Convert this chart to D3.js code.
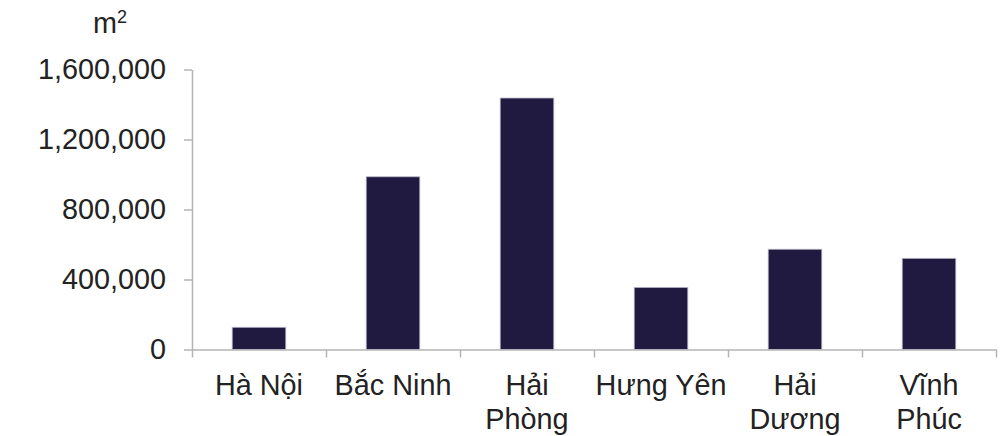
<!DOCTYPE html>
<html>
<head>
<meta charset="utf-8">
<script src="https://cdn.jsdelivr.net/npm/d3@7"></script>
<style>
  html, body { margin: 0; padding: 0; background: #fff; }
  svg { display: block; font-family: "Liberation Sans", Arial, sans-serif; }
</style>
</head>
<body>
<svg id="chart" width="1003" height="436"></svg>
<script>
// Industrial land area by province (m²)
const categories = ["Hà Nội", "Bắc Ninh", "Hải Phòng", "Hưng Yên", "Hải Dương", "Vĩnh Phúc"];
const categoryLines = [["Hà Nội"], ["Bắc Ninh"], ["Hải", "Phòng"], ["Hưng Yên"], ["Hải", "Dương"], ["Vĩnh", "Phúc"]];
const areaValues = [127000, 987000, 1437000, 355000, 573000, 521000];
const yTicks = [0, 400000, 800000, 1200000, 1600000];
const unitLabel = "m";
const unitSup = "2";

const svg = d3.select("#chart");
const margin = { left: 192, right: 7, top: 69.5, bottom: 86.5 };
const W = 1003, H = 436;
const textColor = "#222222";
const axisColor = "#b4b4b4";
const fontSize = 28.8;

const x = d3.scaleBand()
  .domain(categories)
  .range([margin.left, W - margin.right])
  .paddingInner(0.6)
  .paddingOuter(0.3);

const y = d3.scaleLinear()
  .domain([0, 1600000])
  .range([H - margin.bottom, margin.top]);

// Bars
svg.append("g")
  .selectAll("rect")
  .data(categories)
  .join("rect")
  .attr("x", (d) => x(d))
  .attr("width", x.bandwidth())
  .attr("y", (d, i) => y(areaValues[i]))
  .attr("height", (d, i) => y(0) - y(areaValues[i]))
  .attr("fill", "#201a40")
  .attr("stroke", "#b9b6c8")
  .attr("stroke-width", 0.8);

// Y axis
const yAxis = svg.append("g")
  .attr("transform", `translate(${margin.left},0)`)
  .call(d3.axisLeft(y)
    .tickValues(yTicks)
    .tickFormat(d3.format(","))
    .tickSize(8)
    .tickSizeOuter(0)
    .tickPadding(18));
yAxis.select(".domain").attr("stroke", axisColor).attr("stroke-width", 1.5);
yAxis.selectAll(".tick line").attr("stroke", axisColor).attr("stroke-width", 1.5);
yAxis.selectAll(".tick text")
  .attr("fill", textColor)
  .style("font-size", fontSize + "px")
  .style("font-family", "'Liberation Sans', Arial, sans-serif");

// X axis: ticks between categories
const xEdges = d3.scaleLinear()
  .domain([0, categories.length])
  .range([margin.left, W - margin.right]);
const xAxis = svg.append("g")
  .attr("transform", `translate(0,${y(0)})`)
  .call(d3.axisBottom(xEdges)
    .tickValues(d3.range(categories.length + 1))
    .tickFormat("")
    .tickSize(8)
    .tickSizeOuter(0));
xAxis.select(".domain").attr("stroke", axisColor).attr("stroke-width", 1.5);
xAxis.selectAll(".tick line").attr("stroke", axisColor).attr("stroke-width", 1.5);

// Category labels
const labels = svg.append("g")
  .selectAll("text")
  .data(categories)
  .join("text")
  .attr("text-anchor", "middle")
  .attr("fill", textColor)
  .style("font-size", fontSize + "px")
  .attr("transform", (d) => `translate(${x(d) + x.bandwidth() / 2},${y(0) + 45})`);
labels.selectAll("tspan")
  .data((d, i) => categoryLines[i])
  .join("tspan")
  .attr("x", 0)
  .attr("y", (d, j) => j * 34)
  .text((d) => d);

// Unit label
const unit = svg.append("text")
  .attr("x", 93)
  .attr("y", 33)
  .attr("fill", textColor)
  .style("font-size", fontSize + "px");
unit.append("tspan").text(unitLabel);
unit.append("tspan")
  .attr("dy", -10)
  .style("font-size", "18px")
  .text(unitSup);
</script>
</body>
</html>
